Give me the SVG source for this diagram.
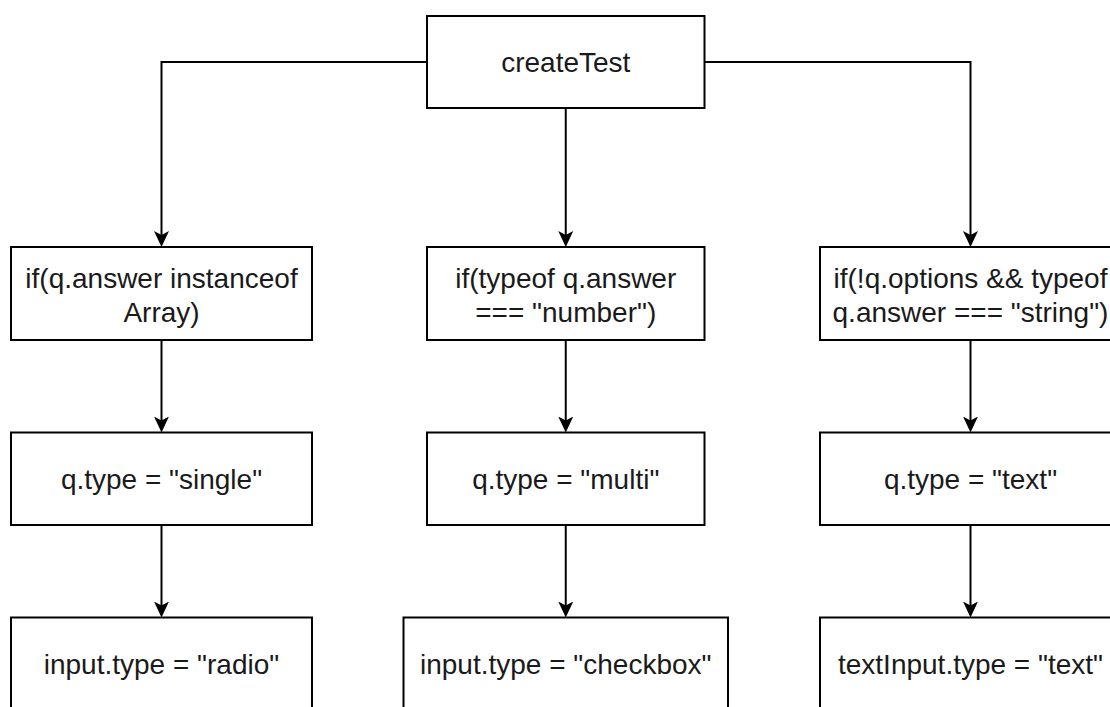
<svg xmlns="http://www.w3.org/2000/svg" width="1110" height="707" viewBox="0 0 1110 707">
  <style>
    .box { fill: #ffffff; stroke: #000000; stroke-width: 2; }
    .lbl { font-family: "Liberation Sans", Arial, Helvetica, sans-serif; font-size: 28px; fill: #1a1a1a; text-anchor: middle; }
    .edge { fill: none; stroke: #000000; stroke-width: 2; marker-end: url(#arrow); }
  </style>
  <defs>
    <marker id="arrow" markerUnits="userSpaceOnUse" viewBox="0 0 16 16" refX="10" refY="8" markerWidth="16" markerHeight="16" orient="auto">
      <path d="M16,8 L0,0.5 L4,8 L0,15.5 Z" fill="#000000"/>
    </marker>
  </defs>
  <rect width="1110" height="707" fill="#ffffff"/>

  <g id="connectors">
    <path class="edge" d="M427,62 H161.5 V241"/>
    <path class="edge" d="M565.75,108 V241"/>
    <path class="edge" d="M704.5,62 H970.5 V241"/>
    <path class="edge" d="M161.5,340 V426.5"/>
    <path class="edge" d="M565.75,340 V426.5"/>
    <path class="edge" d="M970.5,340 V426.5"/>
    <path class="edge" d="M161.5,525 V611.5"/>
    <path class="edge" d="M565.75,525 V611.5"/>
    <path class="edge" d="M970.5,525 V611.5"/>
  </g>

  <g id="createTest">
    <rect class="box" x="427" y="16" width="277.5" height="92"/>
    <text class="lbl" x="565.75" y="72">createTest</text>
  </g>

  <g id="ifArray">
    <rect class="box" x="11" y="247" width="301" height="93"/>
    <text class="lbl" x="161.5" y="288">if(q.answer instanceof</text>
    <text class="lbl" x="161.5" y="322">Array)</text>
  </g>
  <g id="ifNumber">
    <rect class="box" x="427" y="247" width="277.5" height="93"/>
    <text class="lbl" x="565.75" y="288">if(typeof q.answer</text>
    <text class="lbl" x="565.75" y="322">=== "number")</text>
  </g>
  <g id="ifString">
    <rect class="box" x="820" y="247" width="301" height="93"/>
    <text class="lbl" x="970.5" y="288">if(!q.options &amp;&amp; typeof</text>
    <text class="lbl" x="970.5" y="322">q.answer === "string")</text>
  </g>

  <g id="typeSingle">
    <rect class="box" x="11" y="432.5" width="301" height="92.5"/>
    <text class="lbl" x="161.5" y="488.5">q.type = "single"</text>
  </g>
  <g id="typeMulti">
    <rect class="box" x="427" y="432.5" width="277.5" height="92.5"/>
    <text class="lbl" x="565.75" y="488.5">q.type = "multi"</text>
  </g>
  <g id="typeText">
    <rect class="box" x="820" y="432.5" width="301" height="92.5"/>
    <text class="lbl" x="970.5" y="488.5">q.type = "text"</text>
  </g>

  <g id="inputRadio">
    <rect class="box" x="11" y="617.5" width="301" height="93"/>
    <text class="lbl" x="161.5" y="673.5">input.type = "radio"</text>
  </g>
  <g id="inputCheckbox">
    <rect class="box" x="403.5" y="617.5" width="324.5" height="93"/>
    <text class="lbl" x="565.75" y="673.5">input.type = "checkbox"</text>
  </g>
  <g id="textInput">
    <rect class="box" x="820" y="617.5" width="301" height="93"/>
    <text class="lbl" x="970.5" y="673.5">textInput.type = "text"</text>
  </g>
</svg>
